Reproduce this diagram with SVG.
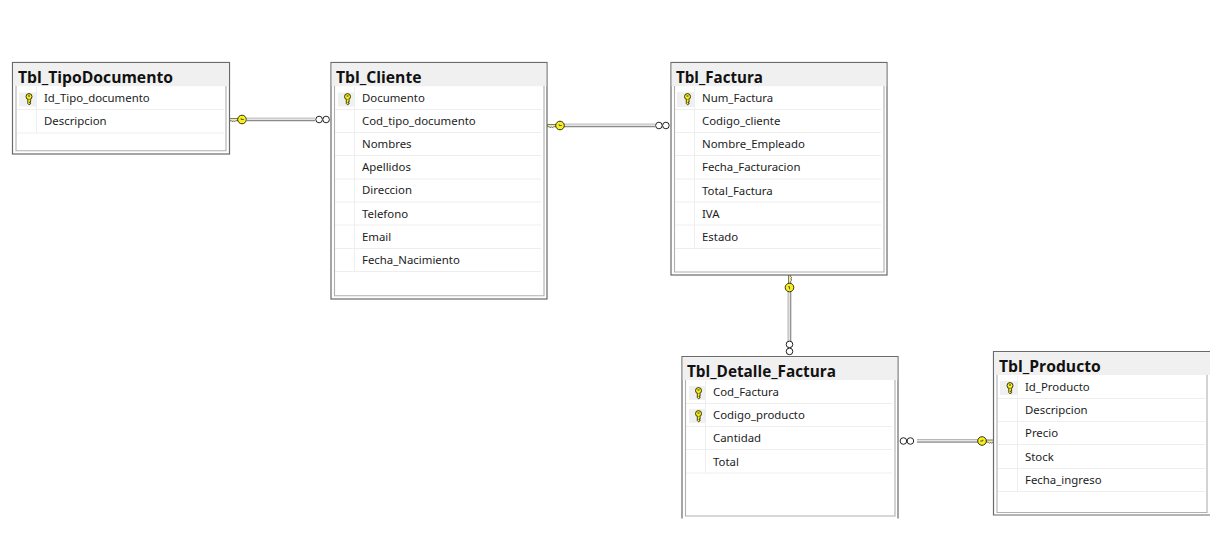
<svg xmlns="http://www.w3.org/2000/svg" width="1226" height="550" viewBox="0 0 1226 550">
<style>
.outer{fill:#fff;stroke:#6a6a6a;stroke-width:1.2}
.head{fill:#f0f0f0}
.inner{fill:none;stroke:#b0b0b0;stroke-width:1.1}
.sep{stroke:#eeeeee;stroke-width:1}
.keycell{fill:#f0f0f0}
.title{font:bold 15.7px "Open Sans","Noto Sans","Liberation Sans",sans-serif;fill:#111}
.col{font:11.4px "Noto Sans","Open Sans","Liberation Sans",sans-serif;fill:#1c1c1c}
.pipe-o{stroke:#8a8a8a;stroke-width:3.6;fill:none}
.pipe-i{stroke:#e4e4e4;stroke-width:1.8;fill:none}
.inf{fill:#fff;stroke:#222;stroke-width:1}
.ky{fill:#f7ef1e;stroke:#33330c;stroke-width:1}
</style>
<defs>
<g id="pk">
<circle class="ky" cx="0" cy="-2.4" r="3"/>
<path d="M-1.2 .4V4.6L0 5.8 1.6 4.8V3.8H.6V3H1.6V.4" fill="#f7ef1e" stroke="#33330c" stroke-width=".9"/>
<path d="M-1 -3H1" stroke="#33330c" stroke-width="1"/>
</g>
<g id="ckey">
<path d="M-12.500 -1H-4V1.200H-6.500L-7.500 2.400-8.700 1.200-9.700 2.400-10.700 1.200H-12.500Z" fill="#f0eca0" stroke="#444" stroke-width=".7"/>
<circle class="ky" cx="0" cy="0" r="4.300"/>
<path d="M-.8 -1.300V0H1.800" stroke="#333" stroke-width=".8" fill="none"/>
</g>
<g id="cinf">
<circle class="inf" cx="-3.600" cy="0" r="3.300"/>
<circle class="inf" cx="3.400" cy="0" r="3.300"/>
</g>
</defs>

<g id="connectors">
<path class="pipe-o" d="M247 119.500H315"/><path class="pipe-i" d="M247 119.200H315"/>
<use href="#ckey" x="242" y="119.500"/><use href="#cinf" x="322.700" y="119.500"/>
<path class="pipe-o" d="M564 125.500H655"/><path class="pipe-i" d="M564 125.200H655"/>
<use href="#ckey" x="560" y="125.500"/><use href="#cinf" x="662.500" y="125.500"/>
<path class="pipe-o" d="M789.500 291V341"/><path class="pipe-i" d="M789.200 291V341"/>
<use href="#ckey" transform="translate(789.500 287.500) rotate(90) scale(1 -1)"/><use href="#cinf" transform="translate(789.500 348) rotate(90)"/>
<path class="pipe-o" d="M917 441H979"/><path class="pipe-i" d="M917 440.700H979"/>
<use href="#cinf" x="907" y="441"/><use href="#ckey" transform="translate(982 441) scale(-1 1)"/>
</g>

<g id="Tbl_TipoDocumento">
<rect class="outer" x="12.500" y="62.500" width="217" height="91.500"/>
<rect class="head" x="13.200" y="63.200" width="215.600" height="23"/>
<path class="inner" d="M16 86V150.800H226V86"/>
<rect class="keycell" x="19" y="92.500" width="17" height="14"/>
<path class="sep" d="M17 109.500H224M17 133H224M36.500 87V133"/>
<use href="#pk" x="29" y="99"/>
<text class="title" x="18" y="83">Tbl_TipoDocumento</text>
<text class="col" x="44" y="102">Id_Tipo_documento</text>
<text class="col" x="44" y="125">Descripcion</text>
</g>

<g id="Tbl_Cliente">
<rect class="outer" x="331" y="62.500" width="216" height="236.500"/>
<rect class="head" x="331.700" y="63.200" width="214.600" height="23"/>
<path class="inner" d="M334.500 86V295.800H544V86"/>
<rect class="keycell" x="338" y="92.500" width="17" height="14"/>
<path class="sep" d="M335 109.500H541M335 132.500H541M335 155.500H541M335 179H541M335 202H541M335 225H541M335 248.500H541M335 271.500H541M354.500 87V271"/>
<use href="#pk" x="347.500" y="99"/>
<text class="title" x="336" y="83">Tbl_Cliente</text>
<text class="col" x="362" y="102">Documento</text>
<text class="col" x="362" y="125">Cod_tipo_documento</text>
<text class="col" x="362" y="148">Nombres</text>
<text class="col" x="362" y="171">Apellidos</text>
<text class="col" x="362" y="194">Direccion</text>
<text class="col" x="362" y="218">Telefono</text>
<text class="col" x="362" y="241">Email</text>
<text class="col" x="362" y="264">Fecha_Nacimiento</text>
</g>

<g id="Tbl_Factura">
<rect class="outer" x="671" y="62.500" width="216" height="212.500"/>
<rect class="head" x="671.700" y="63.200" width="214.600" height="23"/>
<path class="inner" d="M674.500 86V272H884V86"/>
<rect class="keycell" x="677" y="92" width="18" height="15"/>
<path class="sep" d="M675 109.500H881M675 132.500H881M675 155.500H881M675 179H881M675 202H881M675 225H881M675 248.500H881M694.500 87V248"/>
<use href="#pk" x="687.500" y="99"/>
<text class="title" x="676" y="83" textLength="87" lengthAdjust="spacingAndGlyphs">Tbl_Factura</text>
<text class="col" x="702" y="102">Num_Factura</text>
<text class="col" x="702" y="125">Codigo_cliente</text>
<text class="col" x="702" y="148">Nombre_Empleado</text>
<text class="col" x="702" y="171">Fecha_Facturacion</text>
<text class="col" x="702" y="195">Total_Factura</text>
<text class="col" x="702" y="218">IVA</text>
<text class="col" x="702" y="241">Estado</text>
</g>

<g id="Tbl_Detalle_Factura">
<path class="outer" d="M682 518.500V356.500H898V518.500"/>
<rect class="head" x="682.700" y="357.200" width="214.600" height="23"/>
<path d="M683 380H897V518H683Z" fill="#fff"/>
<path class="inner" d="M685.500 380V516H895V380"/>
<rect class="keycell" x="689" y="386" width="17" height="14"/>
<rect class="keycell" x="689" y="409" width="17" height="14"/>
<path class="sep" d="M686 403.500H892M686 426.500H892M686 449.500H892M686 473H892M705.500 381V473"/>
<use href="#pk" x="698.500" y="393"/>
<use href="#pk" x="698.500" y="416"/>
<text class="title" x="687" y="377" textLength="149" lengthAdjust="spacingAndGlyphs">Tbl_Detalle_Factura</text>
<text class="col" x="713" y="396">Cod_Factura</text>
<text class="col" x="713" y="419">Codigo_producto</text>
<text class="col" x="713" y="442">Cantidad</text>
<text class="col" x="713" y="466">Total</text>
</g>

<g id="Tbl_Producto">
<path class="outer" d="M1210 351.500H993.500V515H1210"/>
<rect class="head" x="994.200" y="352.200" width="215.800" height="23"/>
<path d="M995 375H1210V514H995Z" fill="#fff"/>
<path class="inner" d="M997 375V512.500H1207V375"/>
<rect class="keycell" x="1000" y="381" width="17" height="14"/>
<path class="sep" d="M998 398.500H1205M998 421.500H1205M998 444.500H1205M998 468.500H1205M998 491.500H1205M1017.500 376V491"/>
<use href="#pk" x="1010" y="388"/>
<text class="title" x="999" y="372">Tbl_Producto</text>
<text class="col" x="1025" y="391">Id_Producto</text>
<text class="col" x="1025" y="414">Descripcion</text>
<text class="col" x="1025" y="437">Precio</text>
<text class="col" x="1025" y="461">Stock</text>
<text class="col" x="1025" y="484">Fecha_ingreso</text>
</g>
</svg>
